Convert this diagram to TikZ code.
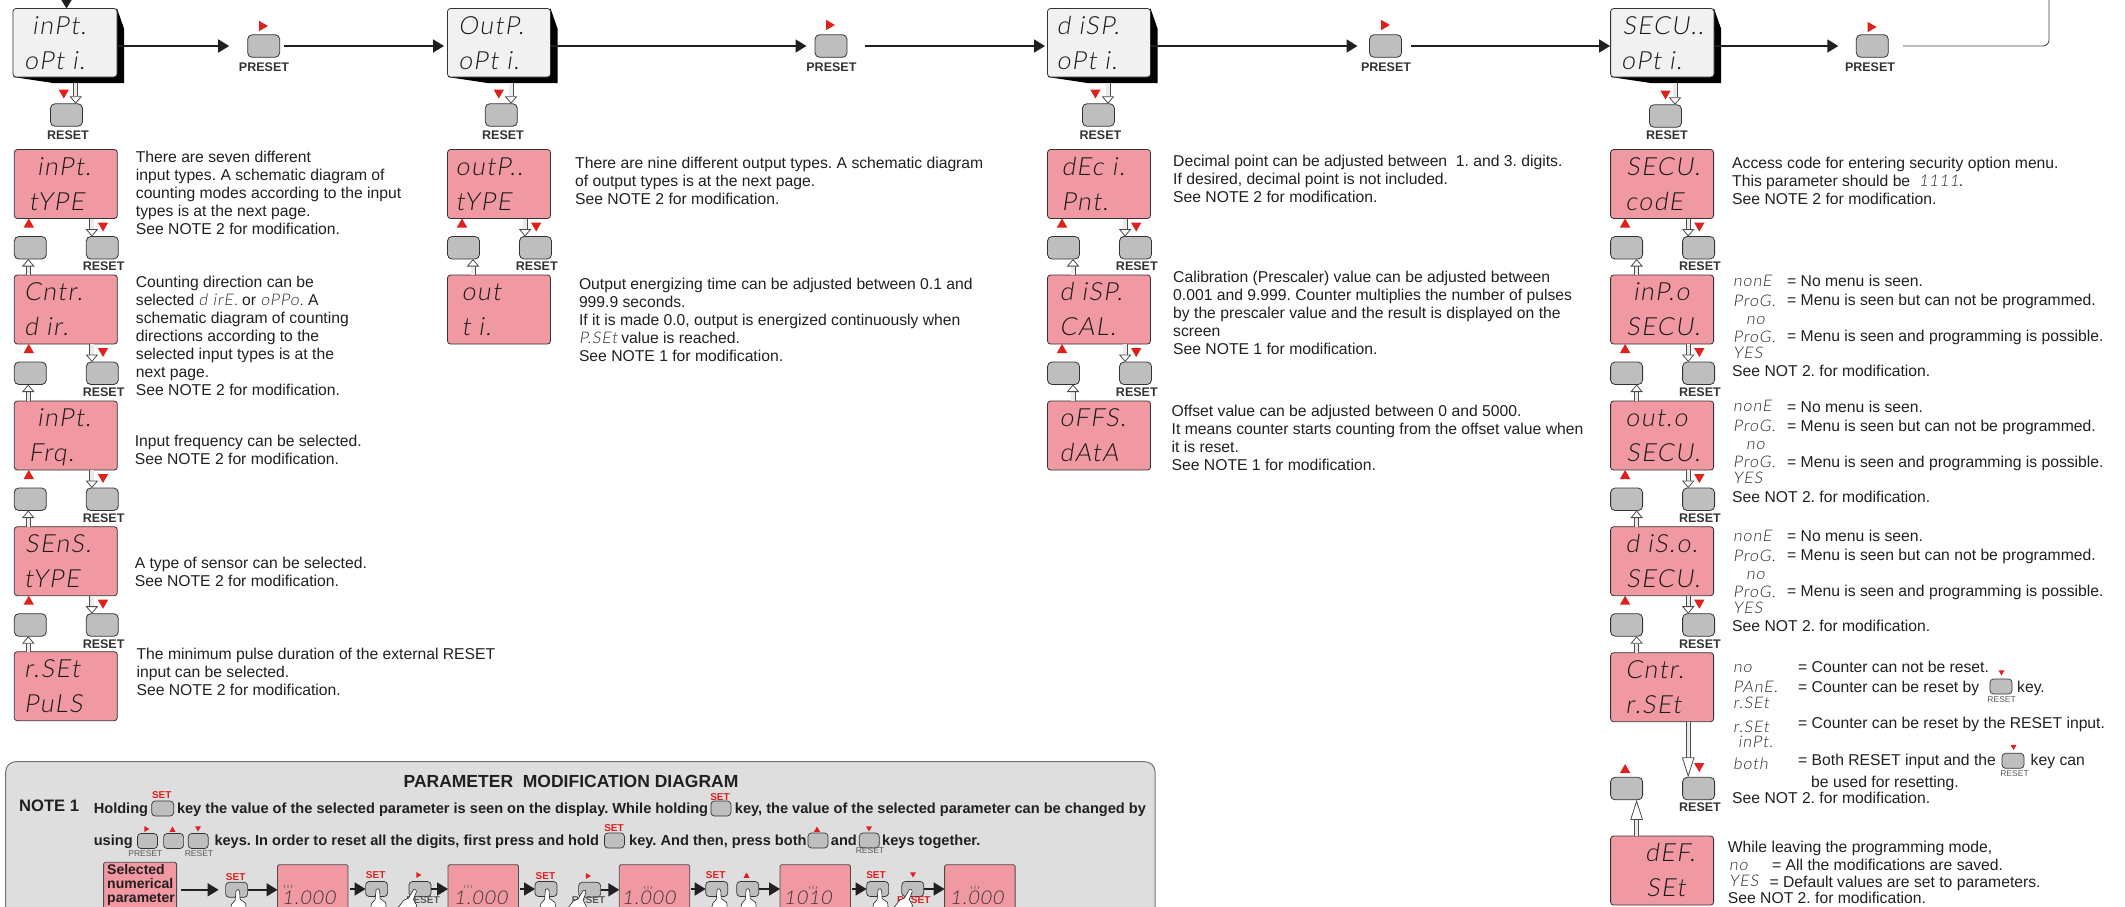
\documentclass[tikz,border=0pt]{standalone}
\usepackage{fontspec}
\setmainfont{Liberation Sans}
\newfontfamily\lcdfont[FakeSlant=0.15,LetterSpace=6]{Lato Light}
\usetikzlibrary{arrows.meta,shapes.geometric,backgrounds}

\definecolor{lcdpink}{HTML}{F199A2}
\definecolor{lcdwhite}{HTML}{F1F1F1}
\definecolor{keygray}{HTML}{BEBEBE}
\definecolor{panelgray}{HTML}{DEDEDF}
\definecolor{redmark}{HTML}{E0201C}
\definecolor{inktext}{HTML}{231F20}

\newcommand{\lcdsmall}[1]{{\lcdfont\fontsize{16}{16}\selectfont\textcolor{black!85}{#1}}}

% two rows of the display inside a box
\newcommand{\lcdrows}[5]{
  \node[lcdlabel] (#1a) at ([xshift=#2,yshift=-17]#1.north west) {#3};
  \node[lcdlabel] (#1b) at ([xshift=#4,yshift=-52]#1.north west) {#5};
}
% black edge behind the white boxes
\newcommand{\optshadow}[1]{
  \begin{scope}[on background layer]
    \fill[black] (#1.north east) -- ++(7,20) |- ([xshift=40,yshift=-6]#1.south west) -- (#1.south west) -- cycle;
  \end{scope}
}
% the two keys between one box and the next
\newcommand{\menustep}[4]{
  \node[keybox, anchor=north west] (#1up) at ([yshift=-#4]#1.south west) {};
  \node[keybox, anchor=north east] (#1dn) at ([xshift=1,yshift=-#4]#1.south east) {};
  \node[redup] (#1tu) at ([xshift=14.5,yshift=-#4+12]#1.south west) {};
  \node[reddown] (#1td) at ([xshift=88.7,yshift=-#4+11]#1.south west) {};
  \node[keylabel] (#1rs) at ([xshift=89.3,yshift=-#4-30]#1.south west) {RESET};
  \draw[dblarrow] ([xshift=77.6]#1.south west) -- ([xshift=77.6]#1up.north west);
  \draw[dblarrow] ([xshift=#3]#2.north west) -- ([xshift=#3]#1up.south west);
}
% the three access rows of the security menu
\newcommand{\accessrows}[2]{
  \node[lcdsmallrow] (#1a) at (1733,#2) {nonE};
  \node[rowtext] (#1b) at (1787,#2) {= No menu is seen.};
  \node[lcdsmallrow] (#1c) at (1733,#2+20) {ProG.};
  \node[rowtext] (#1d) at (1787,#2+19) {= Menu is seen but can not be programmed.};
  \node[lcdsmallrow] (#1e) at (1746,#2+38) {no};
  \node[lcdsmallrow] (#1f) at (1733,#2+56) {ProG.};
  \node[rowtext] (#1g) at (1787,#2+55) {= Menu is seen and programming is possible.};
  \node[lcdsmallrow] (#1h) at (1733,#2+72) {YES};
  \node[rowtext] (#1i) at (1732,#2+90) {See NOT 2. for modification.};
}
\newcommand{\blinkmarks}[2]{
  \draw[black!65,line width=.6] (#1-3,#2-1) -- (#1-4,#2-4) (#1,#2-1) -- (#1,#2-4.5) (#1+3,#2-1) -- (#1+4,#2-4);
}

\tikzset{
  whitebox/.style={draw=black!80, fill=lcdwhite, line width=.8, rounded corners=3, inner sep=0, outer sep=0, minimum width=104, minimum height=68.5},
  pinkbox/.style={draw=black!80, fill=lcdpink, line width=.8, rounded corners=3, inner sep=0, outer sep=0, minimum width=103, minimum height=69},
  lowbox/.style={draw=black!70, fill=lcdpink, line width=.8, rounded corners=1.5, inner sep=0, outer sep=0, minimum width=70.5, minimum height=62, anchor=north west},
  keybox/.style={draw=black!80, fill=keygray, line width=.8, rounded corners=4.5, inner sep=0, outer sep=0, minimum width=32, minimum height=22.5},
  minikey/.style={draw=black!80, fill=keygray, line width=.7, rounded corners=3.5, inner sep=0, outer sep=0, minimum width=20, minimum height=15},
  rowkey/.style={minikey, minimum width=22},
  lcdlabel/.style={anchor=west, inner sep=0, text=black!90, text height=17, text depth=0, font=\lcdfont\fontsize{25}{25}\selectfont},
  lcdsmallrow/.style={anchor=west, inner sep=0, text=black!85, text height=10, text depth=0, font=\lcdfont\fontsize{16}{16}\selectfont},
  lowdigits/.style={anchor=west, inner sep=0, text=black!80, text height=12, text depth=0, font=\lcdfont\fontsize{19}{19}\selectfont},
  keylabel/.style={inner sep=0, text=black!80, font=\bfseries\fontsize{12.5}{13}\selectfont},
  tinylabel/.style={inner sep=0, text=black!65, font=\fontsize{8.5}{9}\selectfont},
  setlabel/.style={inner sep=0, text=redmark, font=\bfseries\fontsize{10}{11}\selectfont},
  redup/.style={regular polygon, regular polygon sides=3, fill=redmark, inner sep=0, minimum size=12},
  reddown/.style={redup, shape border rotate=180},
  redright/.style={redup, shape border rotate=-90},
  tinyup/.style={redup, minimum size=7},
  tinydown/.style={reddown, minimum size=7},
  tinyright/.style={redright, minimum size=7},
  textblock/.style={anchor=north west, inner sep=0, align=left, text=inktext, font=\frenchspacing\fontsize{15.7}{18}\selectfont},
  rowtext/.style={anchor=west, inner sep=0, text=inktext, text height=11, text depth=0, font=\frenchspacing\fontsize{15.7}{18}\selectfont},
  panelbold/.style={anchor=west, inner sep=0, text=inktext, text height=10.5, text depth=0, font=\frenchspacing\bfseries\fontsize{14.6}{15.3}\selectfont},
  mainarrow/.style={draw=inktext, line width=1.7, -{Triangle[length=11,width=13]}},
  dblarrow/.style={draw=black!70, line width=.8, double=black!8, double distance=3.4, -{Triangle[open,fill=white,length=7.5,width=12.5]}},
  dbllong/.style={dblarrow, -{Triangle[open,fill=white,length=20,width=12.5]}},
  pics/hand/.style={code={
    \filldraw[fill=white,draw=black!85,line width=.6] (-1.5,-7) .. controls (0,-8.5) and (1.5,-8) .. (2,-6) -- (2.5,2) -- (8,6) -- (9,16) -- (-8,16) -- (-6,7) -- (-2.5,3) -- cycle;
  }}
}

\begin{document}
\begin{tikzpicture}[x=1pt,y=-1pt]
  \useasboundingbox (0,0) rectangle (2125,906);

  % Define nodes
  \node[whitebox, anchor=north west] (opt1) at (13,8.5) {};
  \node[whitebox, anchor=north west, minimum width=103] (opt2) at (447.5,8.5) {};
  \node[whitebox, anchor=north west, minimum width=103] (opt3) at (1047.5,8.5) {};
  \node[whitebox, anchor=north west, minimum width=103.4] (opt4) at (1610.6,8.5) {};
  \optshadow{opt1} \optshadow{opt2} \optshadow{opt3} \optshadow{opt4}
  \lcdrows{opt1}{19}{inPt.}{11}{oPt i.}
  \lcdrows{opt2}{10.7}{OutP.}{10.7}{oPt i.}
  \lcdrows{opt3}{8.8}{d iSP.}{8.8}{oPt i.}
  \lcdrows{opt4}{11.8}{SECU..}{10.4}{oPt i.}

  \node[keybox] (ps1) at (263.7,46) {};
  \node[keybox] (ps2) at (831,46) {};
  \node[keybox] (ps3) at (1385.5,46) {};
  \node[keybox] (ps4) at (1872.3,46) {};
  \node[redright] (pt1) at (262,26) {};
  \node[redright] (pt2) at (829,25) {};
  \node[redright] (pt3) at (1384,25) {};
  \node[redright] (pt4) at (1870.6,27) {};
  \node[keylabel] (pl1) at (264,66.7) {PRESET};
  \node[keylabel] (pl2) at (831.4,66.7) {PRESET};
  \node[keylabel] (pl3) at (1386,66.7) {PRESET};
  \node[keylabel] (pl4) at (1870,66.7) {PRESET};

  \node[keybox] (rs1) at (66.5,115) {};
  \node[keybox] (rs2) at (501.3,115) {};
  \node[keybox] (rs3) at (1098.4,115) {};
  \node[keybox] (rs4) at (1665.5,116) {};
  \node[reddown] (rt1) at (63.8,92.5) {};
  \node[reddown] (rt2) at (498.8,92.5) {};
  \node[reddown] (rt3) at (1095.4,92.5) {};
  \node[reddown] (rt4) at (1665.5,93.5) {};
  \node[keylabel] (rl1) at (68,134.7) {RESET};
  \node[keylabel] (rl2) at (503,134.7) {RESET};
  \node[keylabel] (rl3) at (1100.4,134.7) {RESET};
  \node[keylabel] (rl4) at (1667,135.5) {RESET};

  % first column
  \node[pinkbox, anchor=north west] (in1) at (14.3,149.5) {};
  \node[pinkbox, anchor=north west] (in2) at (14.3,275) {};
  \node[pinkbox, anchor=north west] (in3) at (14.3,401) {};
  \node[pinkbox, anchor=north west] (in4) at (14.3,526.7) {};
  \node[pinkbox, anchor=north west] (in5) at (14.3,651.7) {};
  \lcdrows{in1}{22.5}{inPt.}{14.3}{tYPE}
  \lcdrows{in2}{9.6}{Cntr.}{9.6}{d ir.}
  \lcdrows{in3}{22.5}{inPt.}{14.3}{Frq.}
  \lcdrows{in4}{10.7}{SEnS.}{9.6}{tYPE}
  \lcdrows{in5}{9.6}{r.SEt}{9.6}{PuLS}

  % second column
  \node[pinkbox, anchor=north west] (ou1) at (447.5,149.5) {};
  \node[pinkbox, anchor=north west] (ou2) at (447.5,275) {};
  \lcdrows{ou1}{8}{outP..}{8}{tYPE}
  \lcdrows{ou2}{13.8}{out}{13.8}{t i.}

  % third column
  \node[pinkbox, anchor=north west] (di1) at (1047.5,149.5) {};
  \node[pinkbox, anchor=north west] (di2) at (1047.5,275) {};
  \node[pinkbox, anchor=north west] (di3) at (1047.5,401) {};
  \lcdrows{di1}{13.8}{dEc i.}{13.8}{Pnt.}
  \lcdrows{di2}{11.9}{d iSP.}{11.9}{CAL.}
  \lcdrows{di3}{11.9}{oFFS.}{11.9}{dAtA}

  % fourth column
  \node[pinkbox, anchor=north west] (se1) at (1610.6,149.5) {};
  \node[pinkbox, anchor=north west] (se2) at (1610.6,275) {};
  \node[pinkbox, anchor=north west] (se3) at (1610.6,401) {};
  \node[pinkbox, anchor=north west] (se4) at (1610.6,526.7) {};
  \node[pinkbox, anchor=north west] (se5) at (1610.6,652.7) {};
  \node[pinkbox, anchor=north west] (se6) at (1610.6,836) {};
  \lcdrows{se1}{15.6}{SECU.}{14.6}{codE}
  \lcdrows{se2}{22.2}{inP.o}{15.6}{SECU.}
  \lcdrows{se3}{14.6}{out.o}{15.6}{SECU.}
  \lcdrows{se4}{14.6}{d iS.o.}{15.6}{SECU.}
  \lcdrows{se5}{14.6}{Cntr.}{14.6}{r.SEt}
  \lcdrows{se6}{34.4}{dEF.}{35.5}{SEt}

  % Connect the nodes
  \coordinate (loopin) at (66.5,-10);
  \coordinate (loopup) at (2049,-10);
  \draw[mainarrow] (loopin) -- ([xshift=1.5]opt1.north);
  \draw[mainarrow] (opt1.east |- ps1) -- ([xshift=-18.5]ps1.west);
  \draw[mainarrow] ([xshift=4]ps1.east) -- ([xshift=-3.5]opt2.west |- ps1);
  \draw[mainarrow] (opt2.east |- ps2) -- ([xshift=-8.5]ps2.west);
  \draw[mainarrow] ([xshift=18]ps2.east) -- ([xshift=-2.5]opt3.west |- ps2);
  \draw[mainarrow] (opt3.east |- ps3) -- ([xshift=-12]ps3.west);
  \draw[mainarrow] ([xshift=9.5]ps3.east) -- ([xshift=-.5]opt4.west |- ps3);
  \draw[mainarrow] (opt4.east |- ps4) -- ([xshift=-18]ps4.west);
  \draw[draw=black!75, line width=.8, rounded corners=6] ([xshift=14.5]ps4.east) -| (loopup);

  \draw[dblarrow] ([xshift=62.7,yshift=-6]opt1.south west) -- ([xshift=9.2]rs1.north);
  \draw[dblarrow] ([xshift=63.5,yshift=-6]opt2.south west) -- ([xshift=9.7]rs2.north);
  \draw[dblarrow] ([xshift=60.5,yshift=-6]opt3.south west) -- ([xshift=9.6]rs3.north);
  \draw[dblarrow] ([xshift=64.4,yshift=-6]opt4.south west) -- ([xshift=9.5]rs4.north);

  \menustep{in1}{in2}{14}{18}
  \menustep{in2}{in3}{14}{18}
  \menustep{in3}{in4}{14}{18}
  \menustep{in4}{in5}{14}{18}
  \menustep{ou1}{ou2}{25.5}{18}
  \menustep{di1}{di2}{25.5}{18}
  \menustep{di2}{di3}{25.5}{18}
  \menustep{se1}{se2}{26}{18}
  \menustep{se2}{se3}{26}{18}
  \menustep{se3}{se4}{26}{18}
  \menustep{se4}{se5}{26}{18}

  % last step is longer
  \node[keybox, anchor=north west] (se5up) at (1610.6,777.3) {};
  \node[keybox, anchor=north west] (se5dn) at (1682.6,777.3) {};
  \node[redup] (se5tu) at (1625.1,770) {};
  \node[reddown] (se5td) at (1699.2,766) {};
  \node[keylabel] (se5rs) at (1700,807.3) {RESET};
  \draw[dbllong] ([xshift=77.6]se5.south west) -- ([xshift=77.6]se5up.north west);
  \draw[dbllong] ([xshift=26]se6.north west) -- ([xshift=26]se5up.south west);

  % texts of the first column
  \node[textblock] (t1) at (135.7,150.7) {There are seven different\\input types. A schematic diagram of\\counting modes according to the input\\types is at the next page.\\See NOTE 2 for modification.};
  \node[textblock] (t2) at (135.7,276) {Counting direction can be\\selected \lcdsmall{d irE.} or \lcdsmall{oPPo.} A\\schematic diagram of counting\\directions according to the\\selected input types is at the\\next page.\\See NOTE 2 for modification.};
  \node[textblock] (t3) at (134.6,435) {Input frequency can be selected.\\See NOTE 2 for modification.};
  \node[textblock] (t4) at (134.6,556.7) {A type of sensor can be selected.\\See NOTE 2 for modification.};
  \node[textblock] (t5) at (136.4,648) {The minimum pulse duration of the external RESET\\input can be selected.\\See NOTE 2 for modification.};

  % texts of the second column
  \node[textblock] (t6) at (575,156.7) {There are nine different output types. A schematic diagram\\of output types is at the next page.\\See NOTE 2 for modification.};
  \node[textblock] (t7) at (578.8,277.7) {Output energizing time can be adjusted between 0.1 and\\999.9 seconds.\\If it is made 0.0, output is energized continuously when\\\lcdsmall{P.SEt} value is reached.\\See NOTE 1 for modification.};

  % texts of the third column
  \node[textblock] (t8) at (1173,154.7) {Decimal point can be adjusted between\ \ 1. and 3. digits.\\If desired, decimal point is not included.\\See NOTE 2 for modification.};
  \node[textblock] (t9) at (1173,270.7) {Calibration (Prescaler) value can be adjusted between\\0.001 and 9.999. Counter multiplies the number of pulses\\by the prescaler value and the result is displayed on the\\screen\\See NOTE 1 for modification.};
  \node[textblock] (t10) at (1171.5,404.7) {Offset value can be adjusted between 0 and 5000.\\It means counter starts counting from the offset value when\\it is reset.\\See NOTE 1 for modification.};

  % texts of the fourth column
  \node[textblock] (t11) at (1732,156.7) {Access code for entering security option menu.\\This parameter should be \ \lcdsmall{1111}.\\See NOTE 2 for modification.};
  \accessrows{aa}{281}
  \accessrows{ab}{406.7}
  \accessrows{ac}{536.2}

  \node[lcdsmallrow] (ca) at (1733,667.3) {no};
  \node[rowtext] (cb) at (1798,666.7) {= Counter can not be reset.};
  \node[lcdsmallrow] (cc) at (1733,687.3) {PAnE.};
  \node[rowtext] (cd) at (1798,686.7) {= Counter can be reset by};
  \node[minikey, minimum width=22] (ck1) at (2001,686.5) {};
  \node[tinydown] (ct1) at (2001.5,672) {};
  \node[tinylabel] (cr1) at (2001.6,699.3) {RESET};
  \node[rowtext] (ce) at (2017,686.7) {key.};
  \node[lcdsmallrow] (cf) at (1733,703.3) {r.SEt};
  \node[lcdsmallrow] (cg) at (1733,727.3) {r.SEt};
  \node[rowtext] (ch) at (1798,722.7) {= Counter can be reset by the RESET input.};
  \node[lcdsmallrow] (ci) at (1738,742.7) {inPt.};
  \node[lcdsmallrow] (cj) at (1733,764.3) {both};
  \node[rowtext] (ck) at (1798,760) {= Both RESET input and the};
  \node[minikey, minimum width=22] (ck2) at (2013,760.8) {};
  \node[tinydown] (ct2) at (2013.5,746.5) {};
  \node[tinylabel] (cr2) at (2014.5,774) {RESET};
  \node[rowtext] (cl) at (2030.5,760) {key can};
  \node[rowtext] (cm) at (1811,781.7) {be used for resetting.};
  \node[rowtext] (cn) at (1732,797.7) {See NOT 2. for modification.};

  \node[rowtext] (da) at (1727.7,846.7) {While leaving the programming mode,};
  \node[lcdsmallrow] (db) at (1729,865.7) {no};
  \node[rowtext] (dc) at (1772,865) {= All the modifications are saved.};
  \node[lcdsmallrow] (dd) at (1729,881.7) {YES};
  \node[rowtext] (de) at (1769.4,881.7) {= Default values are set to parameters.};
  \node[rowtext] (df) at (1727.7,898.3) {See NOT 2. for modification.};

  % modification panel
  \draw[draw=black!55, fill=panelgray, line width=1, rounded corners=10] (5.7,761.7) rectangle (1155,940);
  \node[inner sep=0, text=inktext, font=\bfseries\fontsize{17.5}{18}\selectfont] (ptitle) at (571,781.5) {PARAMETER\ \ MODIFICATION DIAGRAM};
  \node[panelbold, font=\bfseries\fontsize{16.6}{17}\selectfont] (note1) at (19,806) {NOTE 1};

  \node[panelbold] (n1a) at (93.6,808.3) {Holding};
  \node[minikey, minimum width=22] (nk1) at (162.7,808.5) {};
  \node[setlabel] (ns1) at (161.8,795) {SET};
  \node[panelbold] (n1b) at (176.8,808.3) {key the value of the selected parameter is seen on the display. While holding};
  \node[minikey] (nk2) at (720.9,808.5) {};
  \node[setlabel] (ns2) at (720,797) {SET};
  \node[panelbold] (n1c) at (734.7,808.3) {key, the value of the selected parameter can be changed by};

  \node[panelbold] (n2a) at (93.6,840.3) {using};
  \node[minikey] (nk3) at (147.5,841) {};
  \node[minikey] (nk4) at (173.6,841) {};
  \node[minikey] (nk5) at (198.2,841) {};
  \node[tinyright] (nt3) at (146,829) {};
  \node[tinyup] (nt4) at (172.5,830) {};
  \node[tinydown] (nt5) at (198,828) {};
  \node[tinylabel] (nl3) at (145.4,853.3) {PRESET};
  \node[tinylabel] (nl5) at (199,853.3) {RESET};
  \node[panelbold] (n2b) at (214.3,840.3) {keys. In order to reset all the digits, first press and hold};
  \node[minikey] (nk6) at (614.4,840.5) {};
  \node[setlabel] (ns6) at (614,828.3) {SET};
  \node[panelbold] (n2c) at (629,840.3) {key. And then, press both};
  \node[minikey] (nk7) at (818,840.5) {};
  \node[tinyup] (nt7) at (817,830) {};
  \node[panelbold] (n2d) at (830.7,840.3) {and};
  \node[minikey] (nk8) at (869.3,840.5) {};
  \node[tinydown] (nt8) at (869,828) {};
  \node[tinylabel] (nl8) at (870,851) {RESET};
  \node[panelbold] (n2e) at (882,840.3) {keys together.};

  % row of the diagram
  \node[lowbox, minimum width=73] (sel) at (103.6,862.3) {};
  \node[anchor=north west, inner sep=0, align=left, text=inktext, font=\bfseries\fontsize{14}{14}\selectfont] (seltext) at (107,864.5) {Selected\\numerical\\parameter};
  \node[lowbox] (d1) at (277.5,864.7) {};
  \node[lowbox] (d2) at (448,864.7) {};
  \node[lowbox] (d3) at (619.3,864.7) {};
  \node[lowbox] (d4) at (780,864.7) {};
  \node[lowbox] (d5) at (944.6,864.7) {};
  \node[lowdigits] (v1) at (282,898) {1.000};
  \node[lowdigits] (v2) at (454,898) {1.000};
  \node[lowdigits] (v3) at (622,898) {1.000};
  \node[lowdigits] (v4) at (784,898) {1010};
  \node[lowdigits] (v5) at (950,898) {1.000};
  \blinkmarks{288}{889}
  \blinkmarks{468}{889}
  \blinkmarks{648}{890}
  \blinkmarks{813}{890}
  \blinkmarks{975}{890}

  \node[rowkey] (k1) at (236.6,889.8) {};
  \node[rowkey] (k2) at (376.6,889) {};
  \node[rowkey] (k3) at (420,889) {};
  \node[rowkey] (k4) at (546,889) {};
  \node[rowkey] (k5) at (589.6,889.8) {};
  \node[rowkey] (k6) at (716.7,889) {};
  \node[rowkey] (k7) at (747.7,889) {};
  \node[rowkey] (k8) at (877.6,889) {};
  \node[rowkey] (k9) at (912.8,889) {};
  \node[setlabel] (ks1) at (235.7,877) {SET};
  \node[setlabel] (ks2) at (375.7,875) {SET};
  \node[setlabel] (ks4) at (545.4,876) {SET};
  \node[setlabel] (ks6) at (715.7,875) {SET};
  \node[setlabel] (ks8) at (876,875) {SET};
  \node[tinyright] (kt3) at (418,875) {};
  \node[tinyright] (kt5) at (587.5,876) {};
  \node[tinyup] (kt7) at (746.6,876) {};
  \node[tinydown] (kt9) at (913,874) {};
  \node[tinylabel, font=\bfseries\fontsize{10}{11}\selectfont] (kr3) at (423,900) {RESET};
  \node[tinylabel, font=\bfseries\fontsize{10}{11}\selectfont] (kr5) at (588.5,900) {RESET};
  \node[setlabel] (kr9) at (913.7,900) {RESET};

  \draw[mainarrow] ([xshift=4]sel.east |- k1) -- ([xshift=-7]k1.west);
  \draw[mainarrow] (k1.east) -- (d1.west |- k1);
  \draw[mainarrow] ([xshift=1.5]d1.east |- k2) -- (k2.west);
  \draw[mainarrow] (k3.east) -- (d2.west |- k3);
  \draw[mainarrow] ([xshift=1.5]d2.east |- k4) -- (k4.west);
  \draw[mainarrow] (k5.east) -- (d3.west |- k5);
  \draw[mainarrow] ([xshift=1.5]d3.east |- k6) -- (k6.west);
  \draw[mainarrow] (k7.east) -- (d4.west |- k7);
  \draw[mainarrow] ([xshift=1.5]d4.east |- k8) -- (k8.west);
  \draw[mainarrow] (k9.east) -- (d5.west |- k9);

  \pic (h1) at ([xshift=1]k1.south) {hand};
  \pic (h2) at ([xshift=1]k2.south) {hand};
  \pic[xshift=-8, rotate=-25] (h3) at (k3.south) {hand};
  \pic (h4) at ([xshift=1]k4.south) {hand};
  \pic[xshift=-8, rotate=-25] (h5) at (k5.south) {hand};
  \pic (h6) at ([xshift=2]k6.south) {hand};
  \pic (h7) at (k7.south) {hand};
  \pic (h8) at ([xshift=2]k8.south) {hand};
  \pic[xshift=-5, rotate=-25] (h9) at (k9.south) {hand};
\end{tikzpicture}
\end{document}
